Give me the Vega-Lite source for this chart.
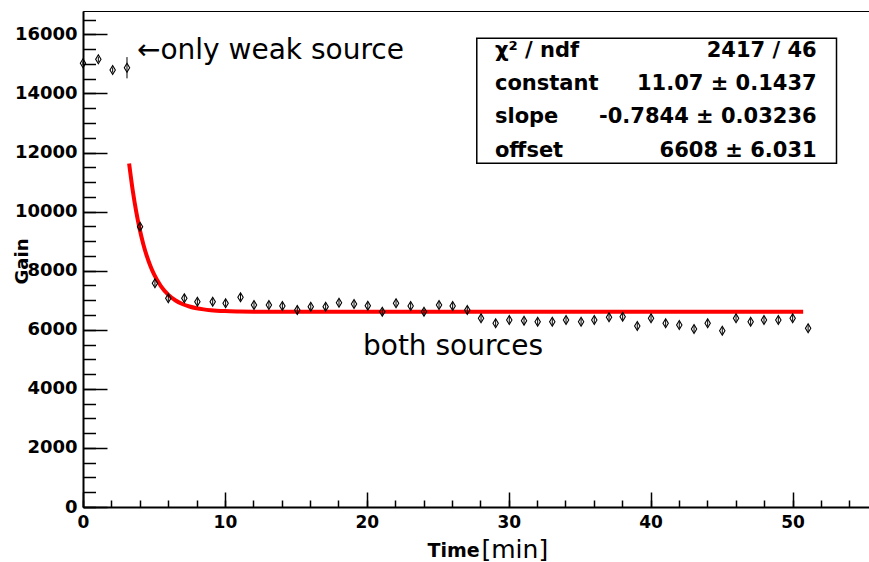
{
  "$schema": "https://vega.github.io/schema/vega-lite/v6.json",
  "width": 786,
  "height": 496,
  "autosize": {"type": "none"},
  "padding": {"left": 83, "top": 11, "right": 0, "bottom": 55},
  "background": "white",
  "config": {
    "view": {"stroke": "black", "strokeWidth": 1},
    "axis": {
      "grid": false,
      "domainColor": "black",
      "domainWidth": 2,
      "tickColor": "black",
      "tickWidth": 1.5,
      "labelColor": "black",
      "titleColor": "black",
      "labelFont": "DejaVu Sans",
      "labelFontWeight": "bold",
      "titleFont": "DejaVu Sans"
    }
  },
  "datasets": {
    "gain": [
      {"t": 0, "v": 15020, "err": 60},
      {"t": 1.08, "v": 15155, "err": 90},
      {"t": 2.09, "v": 14793, "err": 90},
      {"t": 3.1, "v": 14870, "err": 360},
      {"t": 4.02, "v": 9489, "err": 110},
      {"t": 5.07, "v": 7572, "err": 110},
      {"t": 6.01, "v": 7065, "err": 110},
      {"t": 7.14, "v": 7065, "err": 110},
      {"t": 8.06, "v": 6950, "err": 110},
      {"t": 9.14, "v": 6950, "err": 110},
      {"t": 10.05, "v": 6895, "err": 110},
      {"t": 11.1, "v": 7099, "err": 110},
      {"t": 12.05, "v": 6838, "err": 110},
      {"t": 13.1, "v": 6838, "err": 110},
      {"t": 14.05, "v": 6804, "err": 110},
      {"t": 15.1, "v": 6669, "err": 150},
      {"t": 16.05, "v": 6781, "err": 110},
      {"t": 17.1, "v": 6781, "err": 110},
      {"t": 18.04, "v": 6916, "err": 110},
      {"t": 19.1, "v": 6872, "err": 110},
      {"t": 20.07, "v": 6815, "err": 110},
      {"t": 21.09, "v": 6612, "err": 110},
      {"t": 22.06, "v": 6895, "err": 110},
      {"t": 23.09, "v": 6804, "err": 110},
      {"t": 24.03, "v": 6612, "err": 110},
      {"t": 25.09, "v": 6838, "err": 110},
      {"t": 26.05, "v": 6804, "err": 110},
      {"t": 27.08, "v": 6669, "err": 130},
      {"t": 28.05, "v": 6388, "err": 110},
      {"t": 29.08, "v": 6219, "err": 110},
      {"t": 30.04, "v": 6330, "err": 110},
      {"t": 31.08, "v": 6307, "err": 110},
      {"t": 32.04, "v": 6273, "err": 110},
      {"t": 33.07, "v": 6273, "err": 110},
      {"t": 34.04, "v": 6330, "err": 110},
      {"t": 35.1, "v": 6273, "err": 110},
      {"t": 36.03, "v": 6330, "err": 110},
      {"t": 37.07, "v": 6422, "err": 110},
      {"t": 38.03, "v": 6442, "err": 110},
      {"t": 39.06, "v": 6127, "err": 110},
      {"t": 40.03, "v": 6388, "err": 110},
      {"t": 41.06, "v": 6219, "err": 110},
      {"t": 42.02, "v": 6161, "err": 110},
      {"t": 43.06, "v": 6026, "err": 110},
      {"t": 44.02, "v": 6219, "err": 110},
      {"t": 45.05, "v": 5968, "err": 110},
      {"t": 46.02, "v": 6388, "err": 110},
      {"t": 47.05, "v": 6273, "err": 110},
      {"t": 47.99, "v": 6330, "err": 110},
      {"t": 49.0, "v": 6330, "err": 110},
      {"t": 50.01, "v": 6388, "err": 110},
      {"t": 51.1, "v": 6049, "err": 110}
    ],
    "fit": [
      {"t": 3.25, "v": 11626},
      {"t": 3.5, "v": 10732},
      {"t": 3.75, "v": 9998},
      {"t": 4.0, "v": 9394},
      {"t": 4.25, "v": 8898},
      {"t": 4.5, "v": 8490},
      {"t": 4.75, "v": 8155},
      {"t": 5.0, "v": 7880},
      {"t": 5.5, "v": 7467},
      {"t": 6.0, "v": 7188},
      {"t": 6.5, "v": 7000},
      {"t": 7.0, "v": 6873},
      {"t": 7.5, "v": 6787},
      {"t": 8.0, "v": 6729},
      {"t": 8.5, "v": 6690},
      {"t": 9.0, "v": 6663},
      {"t": 10.0, "v": 6633},
      {"t": 11.0, "v": 6620},
      {"t": 12.0, "v": 6613},
      {"t": 14.0, "v": 6609},
      {"t": 16.0, "v": 6608},
      {"t": 30.0, "v": 6608},
      {"t": 50.75, "v": 6608}
    ],
    "stats": [
      {
        "names": ["χ² / ndf", "constant", "slope", "offset"],
        "values": ["2417 / 46", "11.07 ± 0.1437", "-0.7844 ± 0.03236", "6608 ± 6.031"]
      }
    ],
    "single": [{}]
  },
  "layer": [
    {
      "data": {"name": "fit"},
      "mark": {"type": "line", "color": "#ff0000", "strokeWidth": 4, "interpolate": "monotone"},
      "encoding": {
        "x": {
          "field": "t", "type": "quantitative",
          "scale": {"domain": [0, 55.39], "nice": false, "zero": false},
          "axis": {
            "orient": "bottom",
            "values": [0, 10, 20, 30, 40, 50],
            "format": "d",
            "ticks": false,
            "tickSize": 0,
            "labelPadding": 7,
            "labelFontSize": 17,
            "labelFlush": false,
            "labelOverlap": false,
            "title": "Time",
            "titleFontWeight": "bold",
            "titleFontSize": 19,
            "titleX": 370,
            "titleY": 49,
            "titleAlign": "center",
            "titleBaseline": "alphabetic",
            "titleAngle": 0
          }
        },
        "y": {
          "field": "v", "type": "quantitative",
          "scale": {"domain": [0, 16790], "nice": false, "zero": false},
          "axis": {
            "orient": "left",
            "values": [0, 2000, 4000, 6000, 8000, 10000, 12000, 14000, 16000],
            "format": "d",
            "ticks": false,
            "tickSize": 0,
            "labelPadding": 6,
            "labelFontSize": 18,
            "labelOverlap": false,
            "labelFlush": false,
            "title": "Gain",
            "titleFontWeight": "bold",
            "titleFontSize": 18,
            "titleAngle": 270,
            "titleX": -56,
            "titleY": 250,
            "titleAlign": "center",
            "titleBaseline": "alphabetic"
          }
        }
      }
    },
    {
      "data": {"name": "gain"},
      "mark": {"type": "errorbar", "color": "black", "thickness": 1},
      "encoding": {
        "x": {
          "field": "t", "type": "quantitative",
          "axis": {
            "orient": "top",
            "offset": -496,
            "values": [0, 2, 4, 6, 8, 10, 12, 14, 16, 18, 20, 22, 24, 26, 28, 30, 32, 34, 36, 38, 40, 42, 44, 46, 48, 50, 52, 54],
            "tickSize": 7,
            "labels": false,
            "domain": false,
            "title": "[min]",
            "titleFont": "DejaVu Sans",
            "titleFontSize": 25,
            "titleFontWeight": "normal",
            "titleX": 398,
            "titleY": 50,
            "titleAlign": "left",
            "titleBaseline": "alphabetic",
            "titleAngle": 0
          }
        },
        "y": {
          "field": "v", "type": "quantitative",
          "axis": {
            "orient": "right",
            "offset": -786,
            "values": [0, 500, 1000, 1500, 2000, 2500, 3000, 3500, 4000, 4500, 5000, 5500, 6000, 6500, 7000, 7500, 8000, 8500, 9000, 9500, 10000, 10500, 11000, 11500, 12000, 12500, 13000, 13500, 14000, 14500, 15000, 15500, 16000, 16500],
            "tickSize": 12.5,
            "labels": false,
            "domain": false,
            "title": null
          }
        },
        "yError": {"field": "err"}
      }
    },
    {
      "data": {"name": "gain"},
      "mark": {
        "type": "point",
        "shape": "M0,-1L0.6,0L0,1L-0.6,0Z",
        "filled": false,
        "stroke": "black",
        "strokeWidth": 1.1,
        "size": 80,
        "opacity": 1
      },
      "encoding": {
        "x": {
          "field": "t", "type": "quantitative",
          "axis": {
            "orient": "top",
            "offset": -496,
            "values": [0, 10, 20, 30, 40, 50],
            "tickSize": 15,
            "labels": false,
            "domain": false,
            "title": null
          }
        },
        "y": {
          "field": "v", "type": "quantitative",
          "axis": {
            "orient": "right",
            "offset": -786,
            "values": [0, 2000, 4000, 6000, 8000, 10000, 12000, 14000, 16000],
            "tickSize": 24,
            "labels": false,
            "domain": false,
            "title": null
          }
        }
      }
    },
    {
      "data": {"name": "single"},
      "mark": {"type": "rect", "fill": "white", "stroke": "black", "strokeWidth": 1.5},
      "encoding": {
        "x": {"datum": 27.75, "type": "quantitative", "axis": null},
        "x2": {"datum": 53.1},
        "y": {"datum": 15866, "type": "quantitative", "axis": null},
        "y2": {"datum": 11635}
      }
    },
    {
      "data": {"name": "stats"},
      "mark": {"type": "text", "align": "left", "baseline": "alphabetic", "font": "DejaVu Sans", "fontWeight": "bold", "fontSize": 21, "lineHeight": 33.3, "color": "black"},
      "encoding": {
        "x": {"datum": 29.03, "type": "quantitative", "axis": null},
        "y": {"datum": 15244, "type": "quantitative", "axis": null},
        "text": {"field": "names"}
      }
    },
    {
      "data": {"name": "stats"},
      "mark": {"type": "text", "align": "right", "baseline": "alphabetic", "font": "DejaVu Sans", "fontWeight": "bold", "fontSize": 21, "lineHeight": 33.3, "color": "black"},
      "encoding": {
        "x": {"datum": 51.7, "type": "quantitative", "axis": null},
        "y": {"datum": 15244, "type": "quantitative", "axis": null},
        "text": {"field": "values"}
      }
    },
    {
      "data": {"name": "single"},
      "mark": {"type": "text", "align": "left", "baseline": "alphabetic", "font": "DejaVu Sans", "fontSize": 28, "color": "black", "text": "←only weak source"},
      "encoding": {
        "x": {"datum": 3.8, "type": "quantitative", "axis": null},
        "y": {"datum": 15166, "type": "quantitative", "axis": null}
      }
    },
    {
      "data": {"name": "single"},
      "mark": {"type": "text", "align": "left", "baseline": "alphabetic", "font": "DejaVu Sans", "fontSize": 28, "color": "black", "text": "both sources"},
      "encoding": {
        "x": {"datum": 19.73, "type": "quantitative", "axis": null},
        "y": {"datum": 5146, "type": "quantitative", "axis": null}
      }
    }
  ],
  "resolve": {"axis": {"x": "independent", "y": "independent"}}
}
